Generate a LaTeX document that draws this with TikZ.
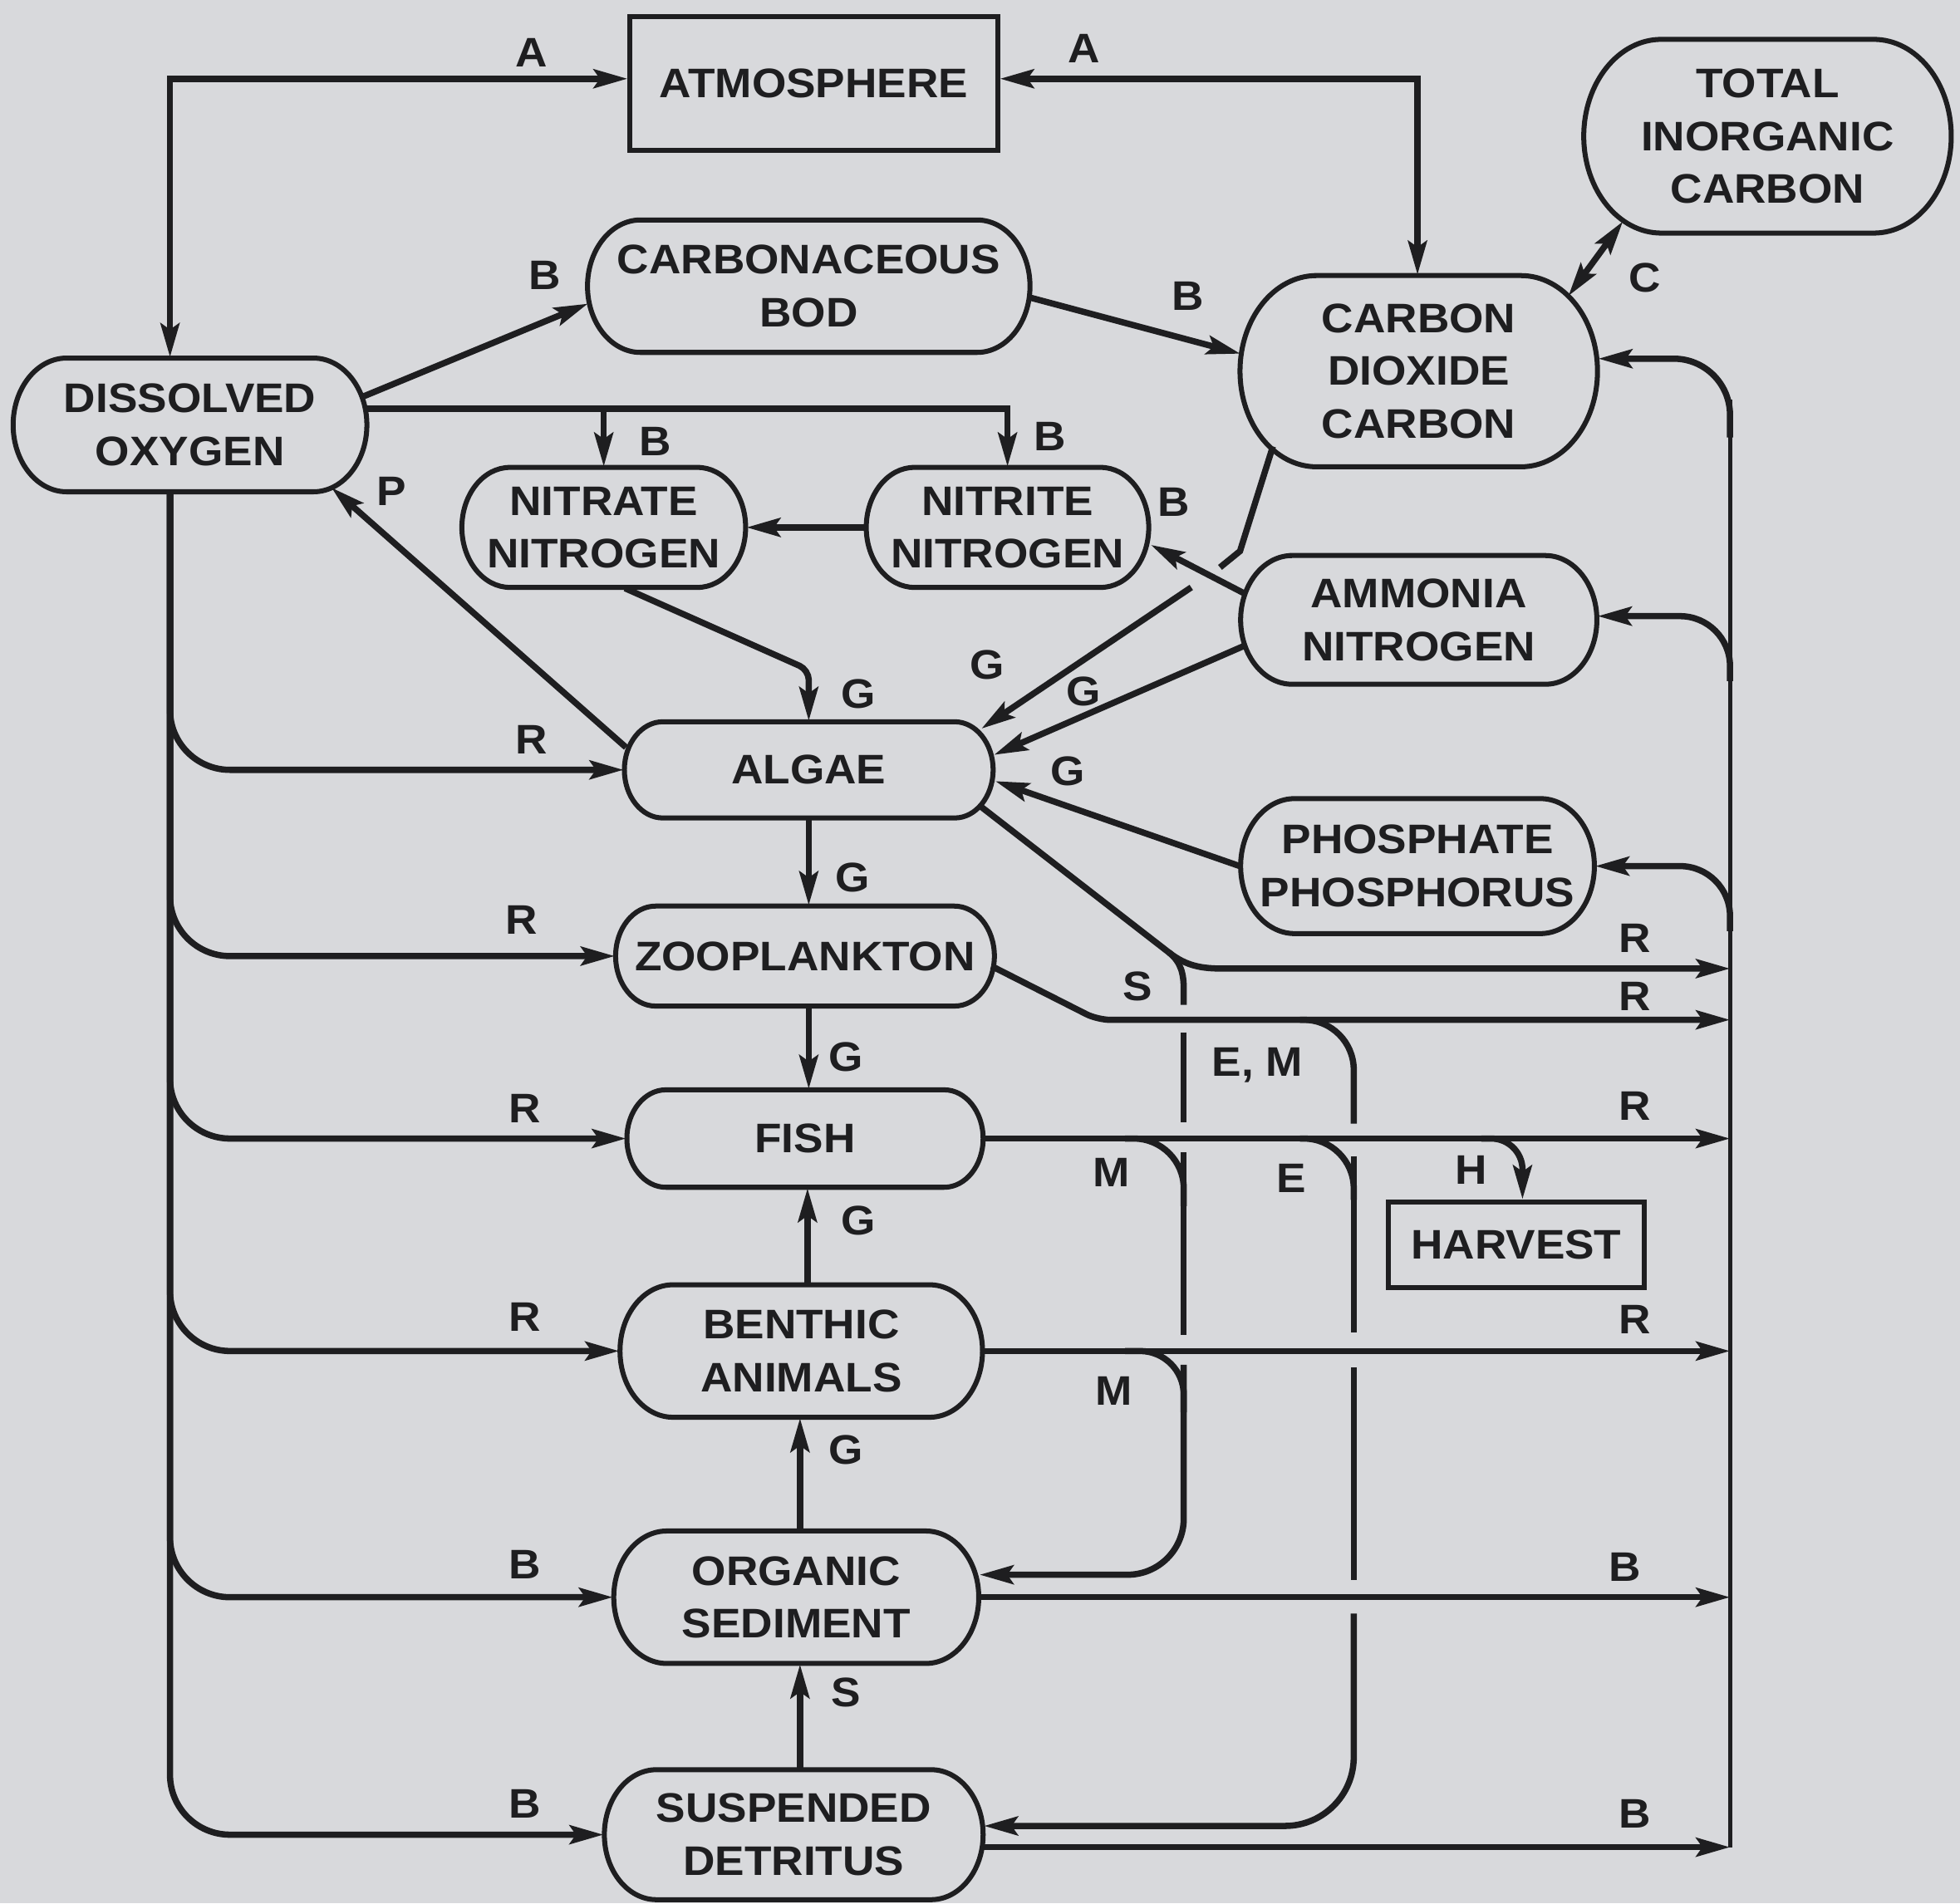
\documentclass[tikz,border=0pt]{standalone}
\usepackage{fontspec}
\setmainfont{Liberation Sans}[FakeStretch=1.07]
\usetikzlibrary{calc,arrows.meta}
\definecolor{paper}{RGB}{216,217,220}
\definecolor{ink}{RGB}{30,30,32}
\tikzset{
  flowline/.style={ink, line width=0.5mm},
  flow/.style={flowline, -{Stealth[length=2.7mm,width=1.5mm,inset=0.5mm]}},
  flowboth/.style={flowline, {Stealth[length=2.7mm,width=1.5mm,inset=0.5mm]}-{Stealth[length=2.7mm,width=1.5mm,inset=0.5mm]}},
  busline/.style={ink, line width=0.35mm},
  podline/.style={ink, line width=0.4mm},
  podnode/.style={rectangle, inner sep=0pt, align=center, text=ink},
  boxnode/.style={rectangle, draw=ink, line width=0.4mm, inner sep=0pt, align=center, text=ink},
  tag/.style={inner sep=0pt, text=ink}
}
% capsule compartment: name, x, y, width, height, text
\newcommand{\podnode}[6]{%
  \pgfmathsetmacro{\pdL}{#2-#4/2}\pgfmathsetmacro{\pdR}{#2+#4/2}%
  \pgfmathsetmacro{\pdT}{#3-#5/2}\pgfmathsetmacro{\pdB}{#3+#5/2}%
  \pgfmathsetmacro{\pdY}{#5/2}\pgfmathsetmacro{\pdX}{0.8*#5/2}%
  \draw[podline] (\pdL+\pdX,\pdT) -- (\pdR-\pdX,\pdT)
    arc[start angle=-90, end angle=90, x radius=\pdX, y radius=\pdY]
    -- (\pdL+\pdX,\pdB)
    arc[start angle=90, end angle=270, x radius=\pdX, y radius=\pdY] -- cycle;
  \node[podnode, minimum width=#4*0.1mm, minimum height=#5*0.1mm] (#1) at (#2,#3) {#6};}

\begin{document}
\begin{tikzpicture}[x=0.1mm, y=-0.1mm, font=\fontsize{9.4}{12}\selectfont\bfseries]
\path[use as bounding box, fill=paper] (0,0) rectangle (1568,1523);

% compartments
\node[boxnode, minimum width=29.4mm, minimum height=10.7mm] (atm) at (651,67) {ATMOSPHERE};
\podnode{tic}{1414}{109}{294}{155}{TOTAL\\INORGANIC\\CARBON}
\podnode{bod}{647}{229}{354}{106}{CARBONACEOUS\\BOD}
\podnode{co2}{1135}{297}{286}{153}{CARBON\\DIOXIDE\\CARBON}
\podnode{do}{152}{340}{283}{107}{DISSOLVED\\OXYGEN}
\podnode{nitrate}{483}{422}{227}{96}{NITRATE\\NITROGEN}
\podnode{nitrite}{806}{422}{226}{96}{NITRITE\\NITROGEN}
\podnode{amm}{1135}{496}{285}{103}{AMMONIA\\NITROGEN}
\podnode{algae}{647}{616}{295}{77}{ALGAE}
\podnode{phos}{1134}{693}{283}{108}{PHOSPHATE\\PHOSPHORUS}
\podnode{zoo}{644}{765}{303}{80}{ZOOPLANKTON}
\podnode{fish}{644}{911}{285}{78}{FISH}
\node[boxnode, minimum width=20.5mm, minimum height=6.9mm] (harvest) at (1213,996) {HARVEST};
\podnode{ben}{641}{1081}{290}{106}{BENTHIC\\ANIMALS}
\podnode{os}{637}{1278}{292}{106}{ORGANIC\\SEDIMENT}
\podnode{sd}{635}{1468}{303}{104}{SUSPENDED\\DETRITUS}

% atmosphere exchange
\coordinate (ltop) at (136,63);
\coordinate (rtop) at (1134,63);
\draw[flowboth] (ltop -| atm.west) -- (ltop) -- (ltop |- do.north);
\draw[flowboth] (rtop -| atm.east) -- (rtop) -- (rtop |- co2.north);
\draw[flowboth] ($(tic.south west)+(32,-10)$) -- ($(co2.north east)+(-24,17)$);

% oxygen demand
\draw[flow] ($(do.east)+(-3,-23)$) -- ($(bod.west)+(1,14)$);
\draw[flow] ($(bod.east)+(-1,9)$) -- ($(co2.west)+(1,-14)$);
\coordinate (dob) at ($(do.east)+(-1,-13)$);
\draw[flow] (dob) -| (nitrite.north);
\draw[flow] (dob -| nitrate.north) -- (nitrate.north);
\draw[flow] (nitrite.west) -- (nitrate.east);
\draw[flow] ($(amm.west)+(4,-21)$) -- ($(nitrite.east)+(1,14)$);

% uptake by algae
\coordinate (nbend) at (647,536);
\draw[flow, rounded corners=0.8mm] ($(nitrate.south)+(17,0)$) -- (nbend) -- (algae.north);
\coordinate (cbend) at (992,441);
\coordinate (cgapa) at (976,454);
\coordinate (cgapb) at (953,470);
\draw[flowline] ($(co2.south west)+(27,-17)$) -- (cbend) -- (cgapa);
\draw[flow] (cgapb) -- ($(algae.east)+(-10,-33)$);
\draw[flow] ($(amm.west)+(3,21)$) -- ($(algae.east)+(0,-12)$);
\draw[flow] (phos.west) -- ($(algae.east)+(1,9)$);
\draw[flow] ($(algae.west)+(2,-18)$) -- ($(do.south east)+(-29,-4)$);

% food chain
\draw[flow] (algae.south) -- (algae.south |- zoo.north);
\draw[flow] (zoo.south -| algae.south) -- (algae.south |- fish.north);
\draw[flow] (ben.north -| 646,0) -- (fish.south -| 646,0);
\draw[flow] (os.north -| 640,0) -- (ben.south -| 640,0);
\draw[flow] (sd.north -| 640,0) -- (os.south -| 640,0);

% left bus (oxygen)
\draw[flow, rounded corners=4.8mm] (ltop |- do.south) |- (algae.west);
\draw[flow, rounded corners=4.8mm] (ltop |- do.south) |- (zoo.west);
\draw[flow, rounded corners=4.8mm] (ltop |- do.south) |- (fish.west);
\draw[flow, rounded corners=4.8mm] (ltop |- do.south) |- (ben.west);
\draw[flow, rounded corners=4.8mm] (ltop |- do.south) |- (os.west);
\draw[flow, rounded corners=4.8mm] (ltop |- do.south) |- (sd.west);

% right bus (carbon dioxide, ammonia, phosphate)
\coordinate (rbus) at (1384,320);
\coordinate (sdo) at ($(sd.east)+(0,10)$);
\draw[busline] (rbus) -- (rbus |- sdo);
\draw[flow, rounded corners=4.5mm] ($(rbus)+(0,30)$) |- ($(co2.east)+(0,-10)$);
\draw[flow, rounded corners=4mm] ($(rbus)+(0,225)$) |- ($(amm.east)+(0,-3)$);
\draw[flow, rounded corners=4mm] ($(rbus)+(0,425)$) |- (phos.east);

% respiration and decay outputs
\coordinate (ssplit) at (935,762);
\coordinate (sr) at (979,775);
\coordinate (zr) at (878,816);
\draw[flowline] ($(algae.east)+(-11,29)$) -- (ssplit);
\draw[flow] (ssplit) to[out=-38,in=180] (sr) -- (sr -| rbus);
\draw[flowline] (ssplit) to[out=-38,in=90] (947,792) -- (947,804);
\draw[flow, rounded corners=1mm] ($(zoo.east)+(-3,8)$) -- (zr) -- (zr -| rbus);
\draw[flow] (fish.east) -- (fish.east -| rbus);
\draw[flow] (ben.east) -- (ben.east -| rbus);
\draw[flow] (os.east) -- (os.east -| rbus);
\draw[flow] (sdo) -- (sdo -| rbus);

% settling and mortality to sediment
\coordinate (fm) at (900,911);
\coordinate (bm) at (900,1081);
\draw[flowline] (947,826) -- (947,898);
\draw[flowline] (947,922) -- (947,1068);
\draw[flowline, rounded corners=4mm] (fm) -| (947,965);
\draw[flowline, rounded corners=3.5mm] (bm) -| (947,1130);
\draw[flow, rounded corners=4.5mm] (947,1092) |- ($(os.east)+(0,-18)$);

% excretion and mortality to detritus
\coordinate (zem) at (1040,816);
\coordinate (fe) at (1040,911);
\draw[flowline, rounded corners=4mm] (zem) -| (1083,899);
\draw[flowline] (1083,925) -- (1083,1066);
\draw[flowline, rounded corners=4mm] (fe) -| (1083,960);
\draw[flowline] (1083,1094) -- (1083,1264);
\draw[flow, rounded corners=5.5mm] (1083,1291) |- ($(sd.east)+(0,-7)$);

% harvest
\coordinate (fh) at (1185,911);
\draw[flow, rounded corners=2.5mm] (fh) -| ($(harvest.north)+(5,0)$);

% process letters
\foreach \lab/\x/\y [count=\i] in {A/425/42, A/867/39,
  B/436/220, B/950/237, B/524/353, B/840/349, B/939/402,
  C/1316/222, P/313/393,
  G/687/555, G/790/532, G/867/553, G/854/617, G/682/702, G/677/846, G/687/977, G/677/1160,
  S/910/789, S/677/1354,
  R/425/592, R/417/736, R/420/887, R/420/1054,
  R/1308/751, R/1308/797, R/1308/885, R/1308/1056,
  B/420/1252, B/420/1443, B/1300/1254, B/1308/1451,
  {E, M}/1006/852, M/889/938, M/891/1113, E/1033/943, H/1177/936}
  \node[tag] (lab\i) at (\x,\y) {\lab};
\end{tikzpicture}
\end{document}
